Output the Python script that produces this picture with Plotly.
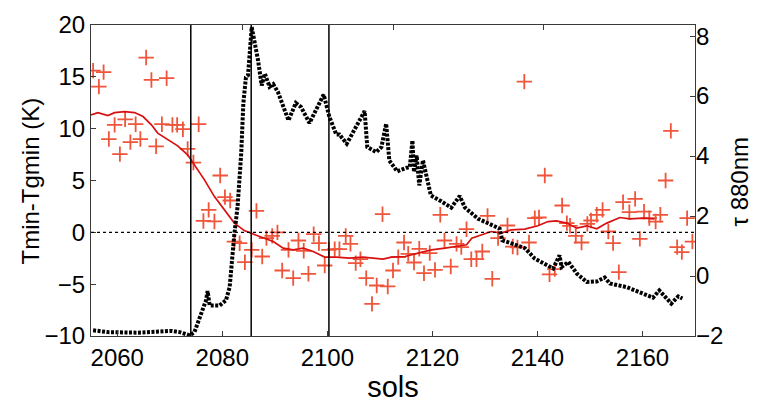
import plotly.graph_objects as go

# ---- data ----
red_sols = [2055.4, 2056.5, 2057.4, 2058.4, 2059.5, 2060.5, 2061.5, 2062.5, 2063.5, 2064.4,
            2065.5, 2066.5, 2067.4, 2068.5, 2069.4, 2070.5, 2071.4, 2072.5, 2073.4, 2074.5,
            2075.5, 2076.4, 2077.4, 2078.5, 2079.6, 2080.5, 2081.5, 2082.3, 2083.3, 2084.3,
            2085.6, 2086.5, 2087.6, 2088.4, 2089.5, 2090.5, 2091.4, 2092.6, 2093.5, 2094.5,
            2095.5, 2096.4, 2097.4, 2098.4, 2099.5, 2100.3, 2101.4, 2102.3, 2103.5, 2104.4,
            2105.4, 2106.3, 2107.4, 2108.5, 2109.4, 2110.5, 2111.5, 2112.5, 2113.5, 2114.6,
            2115.4, 2116.5, 2117.5, 2118.4, 2119.5, 2120.5, 2121.5, 2122.3, 2123.5, 2124.6,
            2125.5, 2126.5, 2127.4, 2128.4, 2129.5, 2130.5, 2131.4, 2132.5, 2134.3, 2135.3,
            2136.2, 2137.5, 2138.4, 2139.5, 2140.3, 2141.4, 2142.3, 2143.3, 2144.7, 2145.6,
            2146.2, 2147.3, 2148.4, 2149.5, 2150.2, 2151.3, 2152.4, 2153.5, 2154.4, 2155.5,
            2156.3, 2157.5, 2158.6, 2159.5, 2160.3, 2161.3, 2162.5, 2163.4, 2164.4, 2165.4,
            2166.6, 2167.5, 2168.5, 2169.5]
red_dT = [15.6, 14.06, 15.45, 9.0, 10.37, 7.54, 10.9, 8.7, 10.43, 9.0,
          16.86, 14.7, 8.3, 10.43, 14.87, 10.37, 10.37, 9.95, 8.05, 6.73,
          10.43, 1.1, 2.17, 1.05, 5.48, 3.4, 3.07, -0.89, -1.05, -2.88,
          -1.69, 2.07, -2.33, -0.56, -0.34, 0.0, -3.68, -1.69, -4.42, -0.79,
          -1.78, -4.0, -0.17, -1.04, -3.2, -1.69, -1.62, -1.62, -0.34, -1.11,
          -2.97, -2.59, -4.42, -6.9, -5.13, 1.75, -5.22, -3.68, -2.39, -0.98,
          -2.07, -2.91, -1.59, -3.94, -2.0, -3.62, 1.69, -0.79, -3.3, -1.11,
          -1.43, 0.3, -2.59, -2.59, -1.85, 1.59, -4.48, -0.56, 0.66, -1.37,
          -1.46, 14.54, -0.98, 1.37, 1.43, 5.48, -4.05, -3.55, 2.59, 0.89,
          0.63, -0.34, -0.98, 0.82, 1.14, 1.69, 2.17, 0.08, -1.04, -3.84,
          2.91, 1.95, 3.23, -0.63, 2.0, 1.37, 1.04, 1.69, 5.0, 9.79,
          -1.43, -1.91, 1.37, -0.89]

mean_sols = [2055.0, 2056.3, 2058.2, 2059.5, 2061.4, 2063.3, 2064.9, 2066.5, 2067.7, 2069.6,
             2071.5, 2073.4, 2074.7, 2076.6, 2078.5, 2080.4, 2082.3, 2084.2, 2085.6, 2087.1,
             2089.7, 2091.6, 2093.5, 2095.4, 2097.3, 2099.5, 2101.7, 2104.2, 2106.8, 2108.7,
             2110.6, 2112.2, 2114.8, 2117.3, 2119.8, 2122.4, 2124.9, 2126.5, 2127.5, 2129.4,
             2131.2, 2133.1, 2135.0, 2137.6, 2140.1, 2142.0, 2143.6, 2145.6, 2147.5, 2149.4,
             2151.3, 2153.2, 2155.7, 2157.6, 2160.1, 2162.3]
mean_dT = [11.33, 11.55, 11.26, 11.55, 11.65, 11.55, 11.17, 10.37, 9.57, 8.92,
           8.34, 7.47, 6.51, 5.06, 3.45, 2.17, 0.89, 0.17, -0.08, -0.4,
           -0.89, -1.53, -1.69, -1.53, -1.85, -2.39, -2.39, -2.49, -2.39, -2.49,
           -2.59, -2.39, -2.33, -2.0, -1.69, -1.53, -1.37, -1.2, -0.56, -0.24,
           0.08, -0.08, 0.24, 0.31, 0.63, 1.04, 1.11, 0.89, 0.4, 0.63,
           0.34, 0.89, 1.43, 1.3, 1.37, 1.3]

tau_sols = [2055.4, 2058.2, 2063.9, 2070.3, 2071.9, 2073.8, 2074.7, 2076.0, 2076.9, 2077.2,
            2077.6, 2079.5, 2080.7, 2081.4, 2081.8, 2082.3, 2082.9, 2083.6, 2084.0, 2084.5,
            2084.9, 2085.6, 2086.8, 2087.5, 2088.1, 2089.0, 2089.7, 2090.6, 2092.6, 2094.0,
            2095.0, 2096.6, 2099.3, 2100.4, 2101.7, 2102.3, 2103.7, 2107.1, 2107.6, 2109.3,
            2110.3, 2111.2, 2111.8, 2113.3, 2115.1, 2115.7, 2116.2, 2116.5, 2117.0, 2117.5,
            2118.2, 2118.9, 2119.7, 2121.7, 2123.6, 2125.2, 2126.2, 2128.7, 2131.2, 2132.8,
            2133.3, 2135.0, 2137.6, 2139.5, 2141.5, 2143.0, 2144.2, 2144.6, 2145.9, 2147.5,
            2149.4, 2151.3, 2152.8, 2153.8, 2157.0, 2159.5, 2162.0, 2163.2, 2164.4, 2165.5,
            2166.8, 2167.6]
tau_vals = [-1.81, -1.87, -1.89, -1.83, -1.87, -1.98, -1.87, -1.25, -0.81, -0.5,
            -0.98, -0.98, -0.81, -0.37, 0.52, 1.41, 2.3, 4.08, 5.75, 6.63,
            6.7, 8.3, 7.2, 6.35, 6.75, 6.31, 6.4, 6.13, 5.19, 5.77,
            5.63, 5.1, 6.05, 5.3, 4.72, 4.72, 4.41, 5.5, 4.3, 4.13,
            4.3, 5.08, 3.85, 3.49, 3.61, 3.63, 4.52, 3.47, 4.02, 3.02,
            3.86, 3.3, 2.69, 2.49, 2.28, 2.67, 2.28, 1.91, 1.72, 1.58,
            1.19, 1.08, 0.93, 0.58, 0.4, 0.25, 0.69, 0.3, 0.47, 0.08,
            -0.2, -0.18, -0.05, -0.25, -0.37, -0.53, -0.72, -0.48, -0.7, -0.92,
            -0.68, -0.75]

event_sols = [2074.0, 2085.5, 2100.3]
x_ticks = [2060, 2080, 2100, 2120, 2140, 2160]
top_ticks = [2083.8, 2112.5, 2141.2]
left_ticks = [-10, -5, 0, 5, 10, 15, 20]
right_ticks = [-2, 0, 2, 4, 6, 8]
left_title = "Tmin-Tgmin (K)"
right_title = "τ 880nm"
x_title = "sols"

RED = "#d81010"
FONT = "Liberation Sans, Arial, sans-serif"
AX = "#3a3a3a"

fig = go.Figure()

fig.add_trace(go.Scatter(x=tau_sols, y=tau_vals, mode="lines", xaxis="x2", yaxis="y2",
                         line=dict(color="black", width=4, dash="3px,1.5px"),
                         showlegend=False))
fig.add_trace(go.Scatter(x=red_sols, y=red_dT, mode="markers",
                         marker=dict(symbol="cross-thin-open", size=11,
                                     line=dict(color=RED, width=1.8)),
                         showlegend=False))
fig.add_trace(go.Scatter(x=mean_sols, y=mean_dT, mode="lines",
                         line=dict(color=RED, width=1.7), showlegend=False))

for s in event_sols:
    fig.add_shape(type="line", xref="x", yref="paper", x0=s, x1=s, y0=0, y1=1,
                  line=dict(color="black", width=1.5))
fig.add_shape(type="line", xref="paper", yref="y", x0=0, x1=1, y0=0, y1=0,
              line=dict(color="black", width=1.2, dash="dot"))

# y-axis titles as rotated text, placed like the reference
fig.add_annotation(text=left_title, xref="paper", yref="paper", x=0, y=0.5,
                   xshift=-61, yshift=-1, textangle=-90, showarrow=False,
                   xanchor="center", yanchor="middle", font=dict(size=24))
fig.add_annotation(text=right_title, xref="paper", yref="paper", x=1, y=0.5,
                   xshift=44, yshift=-1, textangle=-90, showarrow=False,
                   xanchor="center", yanchor="middle", font=dict(size=24))

# page body adds an 8px offset; margins compensate so the plot area sits at x 91..695, y 25..336
fig.update_layout(
    width=757, height=405,
    margin=dict(l=83, r=70, t=17, b=77),
    plot_bgcolor="white", paper_bgcolor="white",
    font=dict(family=FONT, size=24, color="black"),
    xaxis=dict(range=[2055, 2170], tickvals=x_ticks, ticks="inside", ticklen=5,
               tickcolor=AX, showline=True, linecolor=AX, linewidth=1, mirror=True,
               showgrid=False, zeroline=False, automargin=False,
               title=dict(text=x_title, standoff=0)),
    xaxis2=dict(range=[2055, 2170], overlaying="x", side="top", tickvals=top_ticks,
                ticks="inside", ticklen=5, tickcolor=AX, showticklabels=False,
                showline=False, showgrid=False, zeroline=False, automargin=False),
    yaxis=dict(range=[-10, 20], tickvals=left_ticks, ticks="inside", ticklen=5,
               tickcolor=AX, showline=True, linecolor=AX, linewidth=1, mirror=True,
               showgrid=False, zeroline=False, automargin=False),
    yaxis2=dict(range=[-2, 8.37], tickvals=right_ticks, overlaying="y", side="right",
                ticks="inside", ticklen=5, tickcolor=AX, showline=False,
                showgrid=False, zeroline=False, automargin=False),
)

fig.write_html("out.html")
